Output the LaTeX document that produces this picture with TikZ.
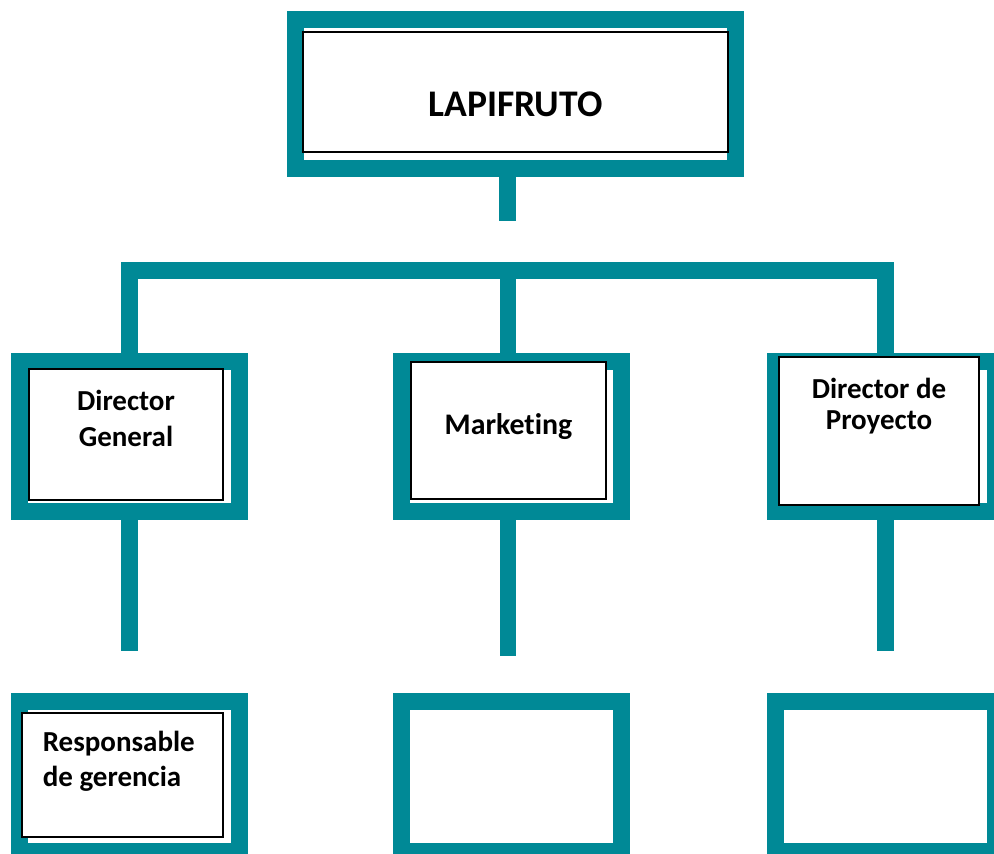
\documentclass[tikz,border=0pt]{standalone}
\usepackage{fontspec}
\setmainfont{Carlito}[Ligatures=NoCommon]
\usepackage{xcolor}
\definecolor{lapiteal}{RGB}{0,137,150}
\newcommand\fcol{lapiteal}
\newlength\pxu
\setlength\pxu{0.02cm}

\begin{document}
\begin{tikzpicture}[x=0.02cm, y=-0.02cm,
      frame/.style={draw=\fcol, line width=17\pxu, inner sep=0pt, minimum width=220\pxu, minimum height=150\pxu},
      box/.style={draw=black, fill=white, line width=0.6pt, inner sep=0pt},
      link/.style={draw=\fcol, line width=16.5\pxu, line join=miter},
      txt/.style={font=\bfseries\fontsize{16.5}{20.8}\selectfont, align=center, inner sep=0pt}
    ]
    \useasboundingbox (0,0) rectangle (994,853);
    \clip (0,0) rectangle (994,853);

    % teal frames
    \node[frame, minimum width=440\pxu, minimum height=149\pxu] (lapi) at (515.5,94) {};
    \node[frame] (dg) at (129.5,436.5) {};
    \node[frame] (mk) at (511,436.5) {};
    \node[frame] (dp) at (885.5,436.5) {};
    \node[frame] (rg) at (129.5,776.5) {};
    \node[frame] (mklow) at (511,776.5) {};
    \node[frame] (dplow) at (885.5,776.5) {};

    % connectors
    \coordinate (bus) at (508,270.5);
    \coordinate (lapiend) at (507.5,221);
    \coordinate (dgend) at (129.5,651);
    \coordinate (mkend) at (508,656);
    \coordinate (dpend) at (885.5,651);
    \draw[link] (lapi.south -| lapiend) -- (lapiend);
    \draw[link] (dg.north) |- (bus) -| (dp.north);
    \draw[link] (bus) -- (bus |- mk.north);
    \draw[link] (dg.south) -- (dgend);
    \draw[link] (mk.south -| mkend) -- (mkend);
    \draw[link] (dp.south) -- (dpend);

    % white boxes
    \node[box, minimum width=425\pxu, minimum height=120\pxu,
      label={[txt, font=\bfseries\fontsize{21.4}{25}\selectfont, yshift=-12\pxu]center:LAPIFRUTO}] (lapibox) at (515.5,92) {};
    \node[box, minimum width=194\pxu, minimum height=131\pxu,
      label={[txt, yshift=16\pxu]center:Director\\General}] (dgbox) at (126,434.5) {};
    \node[box, minimum width=195\pxu, minimum height=137\pxu,
      label={[txt, font=\bfseries\fontsize{17}{20}\selectfont, yshift=4\pxu]center:Marketing}] (mkbox) at (508.5,430.5) {};
    \node[box, minimum width=200\pxu, minimum height=148\pxu,
      label={[txt, font=\bfseries\fontsize{16.5}{17.6}\selectfont, yshift=25\pxu]center:Director de\\Proyecto}] (dpbox) at (879,431) {};
    \node[box, minimum width=201\pxu, minimum height=124\pxu,
      label={[txt, font=\bfseries\fontsize{16.5}{20}\selectfont, align=left, anchor=west, xshift=21\pxu, yshift=14\pxu]west:Responsable\\de gerencia}] (rgbox) at (122.5,775) {};
  \end{tikzpicture}
\end{document}
